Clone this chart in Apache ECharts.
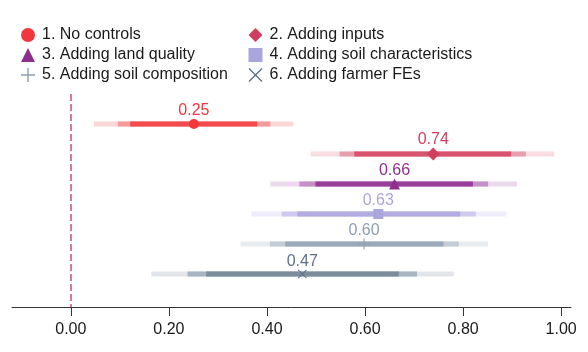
<!DOCTYPE html>
<html><head><meta charset="utf-8">
<script src="https://cdn.jsdelivr.net/npm/echarts@6/dist/echarts.min.js"></script>
<style>html,body{margin:0;padding:0;background:#fff}#c{width:588px;height:352px}</style>
</head><body><div id="c"></div>
<script>
const models = ['1. No controls', '2. Adding inputs', '3. Adding land quality', '4. Adding soil characteristics', '5. Adding soil composition', '6. Adding farmer FEs'];
const estimates = [0.251, 0.739, 0.660, 0.627, 0.598, 0.472];
const outerLo = [0.047, 0.489, 0.407, 0.368, 0.346, 0.164];
const outerHi = [0.454, 0.986, 0.910, 0.888, 0.851, 0.781];
const midLo = [0.096, 0.548, 0.466, 0.430, 0.406, 0.238];
const midHi = [0.407, 0.928, 0.851, 0.826, 0.791, 0.706];
const innerLo = [0.121, 0.578, 0.499, 0.462, 0.437, 0.276];
const innerHi = [0.380, 0.898, 0.820, 0.794, 0.760, 0.669];
const xTicks = [0, 0.2, 0.4, 0.6, 0.8, 1.0];

const pointColors = ['#f0383c', '#d13f5e', '#8e2f8e', '#aba5dd', '#8d9fb0', '#5e7387'];
const innerColors = ['#f24a4d', '#d8536e', '#993d99', '#b2ace0', '#9aaab8', '#7b8c9b'];
const midColors = ['#f39a9b', '#e6a0ad', '#c590c5', '#cfc9ee', '#c3ccd5', '#a8b4bf'];
const outerColors = ['#fcd6d7', '#f8dde3', '#ecd7ec', '#efedf9', '#e8ecef', '#e2e6ea'];
const symbols = ['circle', 'diamond', 'triangle', 'rect',
  'path://M4.5,0H5.5V4.5H10V5.5H5.5V10H4.5V5.5H0V4.5H4.5Z',
  'path://M0,0.7L0.7,0L5,4.3L9.3,0L10,0.7L5.7,5L10,9.3L9.3,10L5,5.7L0.7,10L0,9.3L4.3,5Z'];
const symbolSizes = [10, 13, 11, 10, 11, 9];

const FONT = 'Liberation Sans, Arial, sans-serif';

function bandSeries(name, lo, hi, colors) {
  return {
    type: 'custom', name: name, silent: true, z: 2,
    renderItem: function (params, api) {
      const p1 = api.coord([api.value(0), api.value(2)]);
      const p2 = api.coord([api.value(1), api.value(2)]);
      return { type: 'rect', shape: { x: p1[0], y: p1[1] - 2.5, width: p2[0] - p1[0], height: 5 },
        style: { fill: api.visual('color') } };
    },
    encode: { x: [0, 1], y: 2 },
    data: lo.map((v, i) => ({ value: [v, hi[i], i + 1], itemStyle: { color: colors[i] } }))
  };
}

const series = [
  bandSeries('outer', outerLo, outerHi, outerColors),
  bandSeries('mid', midLo, midHi, midColors),
  bandSeries('inner', innerLo, innerHi, innerColors)
];
models.forEach((m, i) => {
  const s = {
    type: 'scatter', name: m, z: 5,
    symbol: symbols[i], symbolSize: symbolSizes[i],
    itemStyle: { color: pointColors[i], opacity: 1 },
    data: [[estimates[i], i + 1]],
    label: { show: true, position: 'top', distance: 0, color: pointColors[i],
      fontSize: 16, fontFamily: FONT, formatter: p => p.value[0].toFixed(2) }
  };
  if (i === 0) {
    s.markLine = { silent: true, symbol: 'none', label: { show: false },
      lineStyle: { type: [7, 3], color: '#cf4a7e', width: 1.5 },
      data: [{ xAxis: 0 }] };
  }
  series.push(s);
});

const legendBase = {
  orient: 'vertical', top: 25, padding: 0, itemWidth: 14, itemHeight: 14, itemGap: 0,
  selectedMode: false,
  textStyle: { fontSize: 16, fontFamily: FONT, color: '#1a1a1a', lineHeight: 20, padding: [0, 0, 0, 2] }
};

const chart = echarts.init(document.getElementById('c'), null, { renderer: 'canvas' });
chart.setOption({
  animation: false,
  backgroundColor: '#fff',
  legend: [
    Object.assign({}, legendBase, { left: 21, data: [models[0], models[2], models[4]] }),
    Object.assign({}, legendBase, { left: 248.5, data: [models[1], models[3], models[5]] })
  ],
  grid: { left: 12, right: 17, top: 94, bottom: 45 },
  xAxis: {
    type: 'value', min: -0.12, max: 1.02,
    axisLine: { show: true, onZero: false, lineStyle: { color: '#333', width: 1 } },
    axisTick: { show: true, length: 9, lineStyle: { color: '#333' }, customValues: xTicks },
    axisLabel: { customValues: xTicks, margin: 15, fontSize: 16, fontFamily: FONT, color: '#1a1a1a',
      formatter: v => v.toFixed(2) },
    splitLine: { show: false }
  },
  yAxis: { type: 'value', inverse: true, min: 0, max: 7.1, show: false },
  series: series
});
</script></body></html>
